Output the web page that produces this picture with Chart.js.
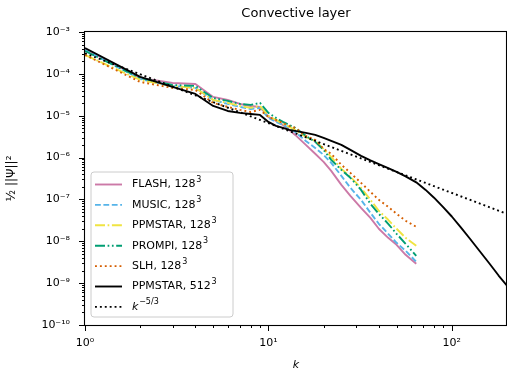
<!DOCTYPE html>
<html><head><meta charset="utf-8">
<script src="https://cdn.jsdelivr.net/npm/chart.js@4/dist/chart.umd.min.js"></script>
<style>html,body{margin:0;padding:0;background:#fff}canvas{display:block}</style>
</head><body>
<canvas id="c" width="507" height="372"></canvas>
<script>
// ---------- data ----------
const chartTitle = 'Convective layer';
const xTitle = 'k';
const yTitle = '\u00BD ||\u03A8||\u00B2';

const kLow = [1,2,3,4,5,6,7,8,9,10,11,12,13,14,16,18,20,22,25,28,32,36,40,45,50,56,64];
const kHigh = [1,2,3,4,5,6,7,8,9,10,11,12,13,14,16,18,20,22,25,28,32,36,40,45,50,56,64,72,80,90,100,112,125,140,160,180,200];

const flash = [3.93e-4,7.98e-5,6.07e-5,5.74e-5,2.81e-5,2.38e-5,1.91e-5,1.71e-5,1.62e-5,9.36e-6,7.51e-6,6.03e-6,4.58e-6,3.48e-6,2.01e-6,1.23e-6,7.90e-7,4.82e-7,2.23e-7,1.22e-7,6.30e-8,3.64e-8,1.99e-8,1.21e-8,8.25e-9,4.76e-9,2.90e-9];
const music = [3.72e-4,7.55e-5,5.14e-5,4.61e-5,2.38e-5,1.91e-5,1.62e-5,1.45e-5,1.54e-5,8.86e-6,7.11e-6,6.03e-6,5.12e-6,4.11e-6,2.50e-6,1.70e-6,1.16e-6,7.47e-7,3.66e-7,1.89e-7,9.78e-8,4.79e-8,2.62e-8,1.51e-8,9.21e-9,5.93e-9,3.24e-9];
const ppmstar128 = [2.83e-4,7.15e-5,5.14e-5,4.61e-5,2.38e-5,2.02e-5,1.71e-5,1.54e-5,1.71e-5,9.89e-6,7.94e-6,6.37e-6,5.40e-6,4.58e-6,3.12e-6,2.50e-6,1.61e-6,1.04e-6,5.37e-7,3.46e-7,1.89e-7,9.78e-8,5.35e-8,3.26e-8,1.99e-8,1.21e-8,7.81e-9];
const prompi = [3.52e-4,7.98e-5,5.43e-5,5.14e-5,2.66e-5,2.26e-5,1.91e-5,1.81e-5,2.02e-5,1.17e-5,8.86e-6,7.11e-6,6.03e-6,5.12e-6,3.30e-6,2.37e-6,1.53e-6,8.81e-7,5.09e-7,3.28e-7,1.69e-7,7.85e-8,4.53e-8,2.62e-8,1.51e-8,8.72e-9,4.51e-9];
const slh = [2.83e-4,6.41e-5,4.61e-5,4.13e-5,2.02e-5,1.62e-5,1.38e-5,1.23e-5,1.38e-5,9.36e-6,7.94e-6,6.73e-6,5.71e-6,5.12e-6,3.30e-6,2.65e-6,1.61e-6,1.23e-6,6.70e-7,4.31e-7,2.49e-7,1.52e-7,9.78e-8,6.66e-8,4.53e-8,3.09e-8,2.22e-8];
const ppmstar512 = [4.15e-4,8.43e-5,4.87e-5,3.31e-5,1.71e-5,1.30e-5,1.17e-5,1.10e-5,1.045e-5,7.11e-6,5.71e-6,5.12e-6,4.58e-6,4.34e-6,3.89e-6,3.48e-6,2.95e-6,2.50e-6,2.01e-6,1.53e-6,1.098e-6,8.57e-7,6.96e-7,5.59e-7,4.56e-7,3.56e-7,2.56e-7,1.69e-7,1.10e-7,6.44e-8,3.91e-8,2.16e-8,1.18e-8,6.27e-9,2.99e-9,1.52e-9,8.67e-10];
const kRef = [1,200];
const kolmogorov = [3.1e-4,4.5e-8];

const seriesNames = ['FLASH, 128','MUSIC, 128','PPMSTAR, 128','PROMPI, 128','SLH, 128','PPMSTAR, 512','k'];
const seriesSups = ['3','3','3','3','3','3','\u22125/3'];

const xTickExps = [0,1,2];
const yTickExps = [-10,-9,-8,-7,-6,-5,-4,-3];

// ---------- styling ----------
const LW = 1.9;
const styles = [
  {color:'#CC79A7', dash:[]},
  {color:'#56B4E9', dash:[5.8,2.6]},
  {color:'#F0E442', dash:[10,2.6,1.7,2.6]},
  {color:'#009E73', dash:[10,2.6,1.7,2.6,1.7,2.6]},
  {color:'#D55E00', dash:[1.9,3]},
  {color:'#000000', dash:[]},
  {color:'#000000', dash:[1.9,3]}
];
const xs = [kLow,kLow,kLow,kLow,kLow,kHigh,kRef];
const ys = [flash,music,ppmstar128,prompi,slh,ppmstar512,kolmogorov];

const datasets = ys.map((vals,i)=>({
  label: seriesNames[i] + seriesSups[i],
  data: vals.map((v,j)=>({x: xs[i][j], y: v})),
  borderColor: styles[i].color,
  backgroundColor: styles[i].color,
  borderDash: styles[i].dash,
  borderWidth: LW,
  borderCapStyle: 'butt',
  borderJoinStyle: 'round',
  pointRadius: 0,
  tension: 0,
  fill: false,
  order: ys.length - 1 - i
}));

const SUP = {'0':'\u2070','1':'\u00B9','2':'\u00B2','3':'\u00B3','4':'\u2074','5':'\u2075','6':'\u2076','7':'\u2077','8':'\u2078','9':'\u2079','-':'\u207B'};
const supStr = s => s.split('').map(c=>SUP[c]||c).join('');
const tickLabel = v => '10' + supStr(String(Math.round(Math.log10(v))));

const FONT = '"DejaVu Sans", sans-serif';
Chart.defaults.font.family = FONT;
Chart.defaults.font.size = 11;
Chart.defaults.color = '#000';

// frame, tick marks and legend in matplotlib style
const mplPlugin = {
  id: 'mpl',
  afterDraw(chart) {
    const ctx = chart.ctx;
    const a = chart.chartArea;
    const xs_ = chart.scales.x, ys_ = chart.scales.y;
    ctx.save();
    ctx.strokeStyle = '#000';
    ctx.lineWidth = 1;
    ctx.setLineDash([]);
    const majorLen = 6, minorLen = 3;
    ctx.beginPath();
    for (let d = -10; d <= -3; d++) {
      for (let m = 1; m <= 9; m++) {
        const v = m * Number('1e' + d);
        if (v > 1.0001e-3) break;
        const py = Math.round(ys_.getPixelForValue(v)) + 0.5;
        const len = m === 1 ? majorLen : minorLen;
        ctx.moveTo(a.left - len, py); ctx.lineTo(a.left, py);
      }
    }
    for (let d = 0; d <= 2; d++) {
      for (let m = 1; m <= 9; m++) {
        const v = m * Math.pow(10, d);
        if (v > 200.0001) break;
        const px = Math.round(xs_.getPixelForValue(v)) + 0.5;
        const len = m === 1 ? majorLen : minorLen;
        ctx.moveTo(px, a.bottom); ctx.lineTo(px, a.bottom + len);
      }
    }
    ctx.stroke();
    ctx.lineWidth = 1.1;
    ctx.strokeRect(a.left - 0.5, a.top - 0.5, a.right - a.left, a.bottom - a.top + 1);
    // legend
    const bx = a.left + 6, bw = 142, bh = 145, by = a.bottom - 8 - bh;
    const r = 3;
    ctx.beginPath();
    ctx.moveTo(bx + r, by);
    ctx.arcTo(bx + bw, by, bx + bw, by + bh, r);
    ctx.arcTo(bx + bw, by + bh, bx, by + bh, r);
    ctx.arcTo(bx, by + bh, bx, by, r);
    ctx.arcTo(bx, by, bx + bw, by, r);
    ctx.closePath();
    ctx.fillStyle = 'rgba(255,255,255,0.8)';
    ctx.fill();
    ctx.strokeStyle = '#cccccc';
    ctx.lineWidth = 1;
    ctx.stroke();
    const rowH = 20.4;
    chart.data.datasets.forEach((ds, i) => {
      const cy = by + 12.5 + i * rowH;
      ctx.beginPath();
      ctx.strokeStyle = ds.borderColor;
      ctx.lineWidth = LW;
      ctx.lineCap = 'butt';
      ctx.setLineDash(ds.borderDash);
      ctx.moveTo(bx + 4, cy); ctx.lineTo(bx + 31, cy);
      ctx.stroke();
      ctx.setLineDash([]);
      ctx.fillStyle = '#000';
      ctx.textBaseline = 'middle';
      ctx.textAlign = 'left';
      const tx = bx + 41;
      ctx.font = (i === 6 ? 'italic ' : '') + '11px ' + FONT;
      ctx.fillText(seriesNames[i], tx, cy);
      const w = ctx.measureText(seriesNames[i]).width;
      ctx.font = '8px ' + FONT;
      ctx.fillText(seriesSups[i], tx + w + 0.8, cy - 4.5);
    });
    ctx.restore();
  }
};

new Chart(document.getElementById('c'), {
  type: 'line',
  data: { datasets },
  options: {
    responsive: false,
    devicePixelRatio: 1,
    animation: false,
    layout: { padding: 0 },
    plugins: {
      legend: { display: false },
      tooltip: { enabled: false },
      title: {
        display: true, text: chartTitle, fullSize: false,
        font: { size: 13, weight: 'normal', family: FONT },
        color: '#000',
        padding: { top: 5.5, bottom: 10.9 }
      }
    },
    scales: {
      x: {
        type: 'logarithmic', min: 1, max: 200,
        grid: { display: false, drawTicks: false },
        border: { display: false },
        afterBuildTicks: s => { s.ticks = xTickExps.map(e => ({ value: Number('1e' + e) })); },
        afterFit: s => { s.height = 47; },
        ticks: { autoSkip: false, maxRotation: 0, padding: 12, callback: v => tickLabel(v), font: { size: 11 } },
        title: { display: true, text: xTitle, font: { size: 11, style: 'italic' }, padding: { top: 0, bottom: 0 } }
      },
      y: {
        type: 'logarithmic', min: 1e-10, max: 1e-3,
        grid: { display: false, drawTicks: false },
        border: { display: false },
        afterBuildTicks: s => { s.ticks = yTickExps.map(e => ({ value: Number('1e' + e) })); },
        afterFit: s => { s.width = 85; },
        ticks: { autoSkip: false, padding: 15, callback: v => tickLabel(v), font: { size: 11 } },
        title: { display: true, text: yTitle, font: { size: 12 }, padding: { top: 5, bottom: 0 } }
      }
    }
  },
  plugins: [mplPlugin]
});
</script>
</body></html>
